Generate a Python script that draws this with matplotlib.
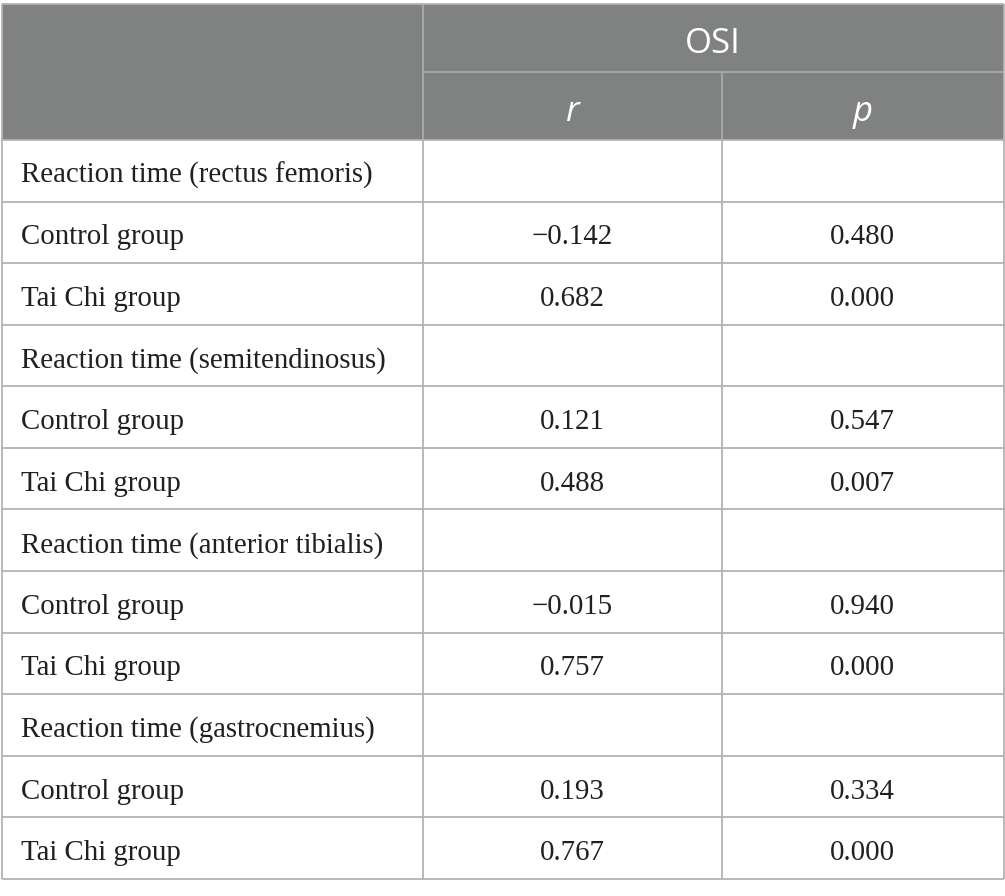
import matplotlib
matplotlib.use("Agg")
import matplotlib.pyplot as plt
from matplotlib.patches import Rectangle

# ---- data ----
row_labels = [
    "Reaction time (rectus femoris)", "Control group", "Tai Chi group",
    "Reaction time (semitendinosus)", "Control group", "Tai Chi group",
    "Reaction time (anterior tibialis)", "Control group", "Tai Chi group",
    "Reaction time (gastrocnemius)", "Control group", "Tai Chi group",
]
r_values = [None, -0.142, 0.682, None, 0.121, 0.488, None, -0.015, 0.757, None, 0.193, 0.767]
p_values = [None, 0.480, 0.000, None, 0.547, 0.007, None, 0.940, 0.000, None, 0.334, 0.000]
group_header = "OSI"
sub_headers = ["r", "p"]

def fmt(v):
    if v is None:
        return ""
    return f"{v:.3f}".replace("-", "\u2212")

W, H = 1005, 896
fig = plt.figure(figsize=(W / 100, H / 100), dpi=100)
ax = fig.add_axes([0, 0, 1, 1])
ax.set_xlim(0, W)
ax.set_ylim(H, 0)
ax.axis("off")

x0, x1, x2, x3 = 1.5, 422.5, 721.5, 1003.5
y_top, y_mid, y_head = 4, 72, 140
y_bot = 879
n = len(row_labels)
rh = (y_bot - y_head) / n

head_col = "#808281"
line_col = "#b3b3b3"
hline_col = "#a9abaa"

ax.add_patch(Rectangle((x0, y_top), x3 - x0, y_head - y_top, facecolor=head_col, edgecolor="none", zorder=1))

# header lines
ax.vlines(x1, y_top, y_head, color=hline_col, lw=1.3, zorder=2)
ax.vlines(x2, y_mid, y_head, color=hline_col, lw=1.3, zorder=2)
ax.hlines(y_mid, x1, x3, color=hline_col, lw=1.3, zorder=2)
ax.hlines(y_top, x0, x3, color=line_col, lw=1.3, zorder=2)

# body lines
for i in range(n + 1):
    y = y_head + i * rh
    ax.hlines(y, x0, x3, color=line_col, lw=1.3, zorder=2)
for x in (x0, x1, x2, x3):
    ax.vlines(x, y_head, y_bot, color=line_col, lw=1.3, zorder=2)
ax.vlines(x0, y_top, y_head, color=line_col, lw=1.3, zorder=2)
ax.vlines(x3, y_top, y_head, color=line_col, lw=1.3, zorder=2)

sans = ["Open Sans", "DejaVu Sans"]
serif = ["Liberation Serif", "DejaVu Serif"]

ax.text((x1 + x3) / 2, 53, group_header, color="white", fontsize=25,
        family=sans, ha="center", va="baseline", zorder=3)
ax.text((x1 + x2) / 2, 121, sub_headers[0], color="white", fontsize=25,
        family=sans, style="italic", ha="center", va="baseline", zorder=3)
ax.text((x2 + x3) / 2, 121, sub_headers[1], color="white", fontsize=25,
        family=sans, style="italic", ha="center", va="baseline", zorder=3)

for i, (lab, r, p) in enumerate(zip(row_labels, r_values, p_values)):
    yb = y_head + (i + 0.5) * rh + 12
    ax.text(21, yb, lab, fontsize=20.8, family=serif, color="#231f20", ha="left", va="baseline", zorder=3)
    ax.text((x1 + x2) / 2, yb, fmt(r), fontsize=20.8, family=serif, color="#231f20", ha="center", va="baseline", zorder=3)
    ax.text((x2 + x3) / 2, yb, fmt(p), fontsize=20.8, family=serif, color="#231f20", ha="center", va="baseline", zorder=3)

fig.savefig("out.png", dpi=100, facecolor="white")
